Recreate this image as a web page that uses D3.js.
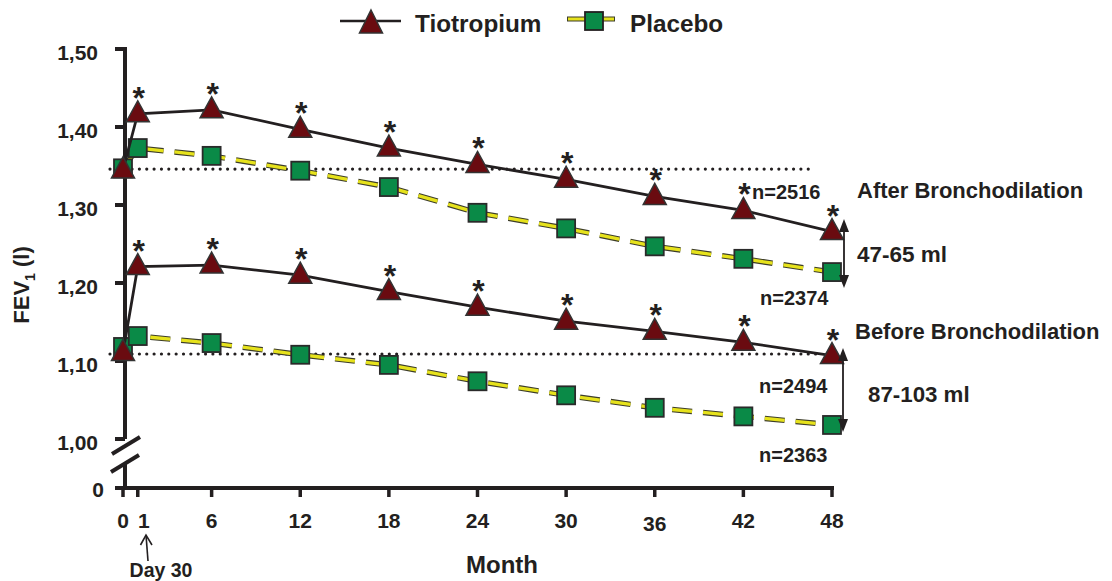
<!DOCTYPE html>
<html lang="en">
<head>
<meta charset="utf-8">
<script src="https://d3js.org/d3.v7.min.js"></script>
<style>
  body { margin: 0; background: #fff; }
  text { font-family: "Liberation Sans", Arial, sans-serif; font-weight: bold; fill: #231f20; }
</style>
</head>
<body>
<div id="chart"></div>
<script>
// data
const months = [0, 1, 6, 12, 18, 24, 30, 36, 42, 48];
const tioAfter   = [1.345, 1.417, 1.422, 1.397, 1.373, 1.352, 1.333, 1.311, 1.293, 1.266];
const plaAfter   = [1.347, 1.373, 1.363, 1.344, 1.323, 1.290, 1.270, 1.247, 1.231, 1.214];
const tioBefore  = [1.111, 1.221, 1.223, 1.210, 1.189, 1.169, 1.151, 1.138, 1.124, 1.107];
const plaBefore  = [1.118, 1.132, 1.123, 1.108, 1.095, 1.074, 1.056, 1.040, 1.029, 1.018];
const xTicks = [0, 1, 6, 12, 18, 24, 30, 36, 42, 48];
const yTicks = [1.0, 1.1, 1.2, 1.3, 1.4, 1.5];
const baselineAfter = 1.346;
const baselineBefore = 1.109;

const width = 1112, height = 581;
const svg = d3.select("#chart").append("svg")
  .attr("width", width).attr("height", height);

const x = d3.scaleLinear().domain([0, 48]).range([123, 832]);
const y = d3.scaleLinear().domain([1.0, 1.5]).range([439, 49]);
const zeroY = 488;
const axisX = 125;
const dark = "#231f20";

// y axis (broken)
svg.append("line").attr("x1", axisX).attr("x2", axisX).attr("y1", y(1.5) - 2).attr("y2", y(1.0))
  .attr("stroke", dark).attr("stroke-width", 4);
svg.append("line").attr("x1", axisX).attr("x2", axisX).attr("y1", 464).attr("y2", zeroY + 2)
  .attr("stroke", dark).attr("stroke-width", 4);
// break marks
[[112, 454, 140, 437], [111, 472, 139, 455]].forEach(s => {
  svg.append("line").attr("x1", s[0]).attr("y1", s[1]).attr("x2", s[2]).attr("y2", s[3])
    .attr("stroke", dark).attr("stroke-width", 4);
});
svg.selectAll(".ytick").data(yTicks).join("line")
  .attr("x1", 115).attr("x2", axisX).attr("y1", d => y(d)).attr("y2", d => y(d))
  .attr("stroke", dark).attr("stroke-width", 4);
svg.selectAll(".ylab").data(yTicks).join("text")
  .attr("x", 98).attr("y", d => y(d)).attr("dy", "0.5em")
  .attr("text-anchor", "end").attr("font-size", 21)
  .text(d => d.toFixed(2).replace(".", ","));
svg.append("line").attr("x1", 115).attr("x2", axisX).attr("y1", zeroY).attr("y2", zeroY)
  .attr("stroke", dark).attr("stroke-width", 4);
svg.append("text").attr("x", 104).attr("y", 497)
  .attr("text-anchor", "end").attr("font-size", 21).text("0");

// x axis
svg.append("line").attr("x1", 116).attr("x2", 834).attr("y1", zeroY).attr("y2", zeroY)
  .attr("stroke", dark).attr("stroke-width", 4);
svg.selectAll(".xtick").data(xTicks).join("line")
  .attr("x1", d => x(d)).attr("x2", d => x(d)).attr("y1", zeroY).attr("y2", zeroY + 9)
  .attr("stroke", dark).attr("stroke-width", 3.5);
svg.selectAll(".xlab").data(xTicks).join("text")
  .attr("x", d => x(d) + (d === 1 ? 6 : 0)).attr("y", d => d === 36 ? 531 : 528)
  .attr("text-anchor", "middle").attr("font-size", 21)
  .text(d => d);
svg.append("text").attr("x", 502).attr("y", 573).attr("text-anchor", "middle")
  .attr("font-size", 24).text("Month");

// Day 30 arrow
svg.append("line").attr("x1", 148).attr("y1", 561).attr("x2", 146).attr("y2", 535)
  .attr("stroke", dark).attr("stroke-width", 1.6);
svg.append("path").attr("d", "M140.5,545 L146,535 L152,545").attr("fill", "none")
  .attr("stroke", dark).attr("stroke-width", 1.6);
svg.append("text").attr("x", 161).attr("y", 577).attr("text-anchor", "middle")
  .attr("font-size", 19.5).text("Day 30");

// y label
const yl = svg.append("text").attr("transform", "translate(29,285) rotate(-90)")
  .attr("text-anchor", "middle").attr("font-size", 22);
yl.append("tspan").text("FEV");
yl.append("tspan").attr("font-size", 14).attr("dy", 6).text("1");
yl.append("tspan").attr("dy", -6).text(" (l)");

// baselines
[baselineAfter, baselineBefore].forEach((b, i) => {
  svg.append("line").attr("x1", 110).attr("x2", i === 0 ? 810 : 818)
    .attr("y1", y(b)).attr("y2", y(b))
    .attr("stroke", dark).attr("stroke-width", 3.2)
    .attr("stroke-linecap", "round").attr("stroke-dasharray", "0 7.35");
});

const line = d3.line().x((d, i) => x(months[i])).y(d => y(d));

function placebo(vals) {
  svg.append("path").attr("d", line(vals)).attr("fill", "none")
    .attr("stroke", "#3d3d2a").attr("stroke-width", 5.5).attr("stroke-dasharray", "20 11");
  svg.append("path").attr("d", line(vals)).attr("fill", "none")
    .attr("stroke", "#e6e21c").attr("stroke-width", 3.3).attr("stroke-dasharray", "20 11");
  svg.append("g").selectAll("rect").data(vals).join("rect")
    .attr("x", (d, i) => x(months[i]) - 9).attr("y", d => y(d) - 9)
    .attr("width", 18).attr("height", 18)
    .attr("fill", "#0a8a47").attr("stroke", "#2a2a2a").attr("stroke-width", 1.8);
}
function tio(vals) {
  svg.append("path").attr("d", line(vals)).attr("fill", "none")
    .attr("stroke", dark).attr("stroke-width", 2.8);
  svg.append("g").selectAll("path").data(vals).join("path")
    .attr("transform", (d, i) => `translate(${x(months[i])},${y(d)})`)
    .attr("d", "M0,-13 L11.5,8 L-11.5,8 Z")
    .attr("fill", "#6a0b10").attr("stroke", "#333").attr("stroke-width", 1.5);
  svg.append("g").selectAll("text").data(vals.slice(1)).join("text")
    .attr("x", (d, i) => x(months[i + 1]) + 1).attr("y", d => y(d) - 5)
    .attr("text-anchor", "middle").attr("font-size", 32).attr("font-weight", "normal")
    .text("*");
}
placebo(plaAfter);
placebo(plaBefore);
tio(tioAfter);
tio(tioBefore);

// annotations
function tag(t, xx, yy, fs, anchor) {
  svg.append("text").attr("x", xx).attr("y", yy).attr("dy", "0.36em")
    .attr("font-size", fs).attr("text-anchor", anchor || "start").text(t);
}
tag("n=2516", 752, 192, 20);
tag("n=2374", 760, 298, 20);
tag("n=2494", 759, 386, 20);
tag("n=2363", 759, 455, 20);
tag("After Bronchodilation", 857, 190, 22);
tag("Before Bronchodilation", 855, 331, 22);
tag("47-65 ml", 857, 254, 22.5);
tag("87-103 ml", 868, 394, 22.3);

function dblArrow(xx, y1, y2) {
  svg.append("line").attr("x1", xx).attr("x2", xx).attr("y1", y1 + 8).attr("y2", y2 - 8)
    .attr("stroke", dark).attr("stroke-width", 1.8);
  svg.append("path").attr("d", `M${xx},${y1} L${xx - 5},${y1 + 13} L${xx + 5},${y1 + 13} Z`).attr("fill", dark);
  svg.append("path").attr("d", `M${xx},${y2} L${xx - 5},${y2 - 13} L${xx + 5},${y2 - 13} Z`).attr("fill", dark);
}
dblArrow(844, 219, 288);
dblArrow(843, 348, 432);

// legend
svg.append("line").attr("x1", 340).attr("x2", 401).attr("y1", 21).attr("y2", 21)
  .attr("stroke", dark).attr("stroke-width", 2.5);
svg.append("path").attr("transform", "translate(371,22)").attr("d", "M0,-12 L11.5,11 L-11.5,11 Z")
  .attr("fill", "#6a0b10").attr("stroke", "#333").attr("stroke-width", 1.5);
svg.append("text").attr("x", 415).attr("y", 32).attr("font-size", 24.3).text("Tiotropium");
svg.append("line").attr("x1", 567).attr("x2", 615).attr("y1", 19).attr("y2", 19)
  .attr("stroke", "#3d3d2a").attr("stroke-width", 5);
svg.append("line").attr("x1", 568).attr("x2", 614).attr("y1", 19).attr("y2", 19)
  .attr("stroke", "#e6e21c").attr("stroke-width", 2.8);
svg.append("rect").attr("x", 585).attr("y", 12).attr("width", 18).attr("height", 18)
  .attr("fill", "#0a8a47").attr("stroke", dark).attr("stroke-width", 1.8);
svg.append("text").attr("x", 630).attr("y", 32).attr("font-size", 24.3).text("Placebo");
</script>
</body>
</html>
